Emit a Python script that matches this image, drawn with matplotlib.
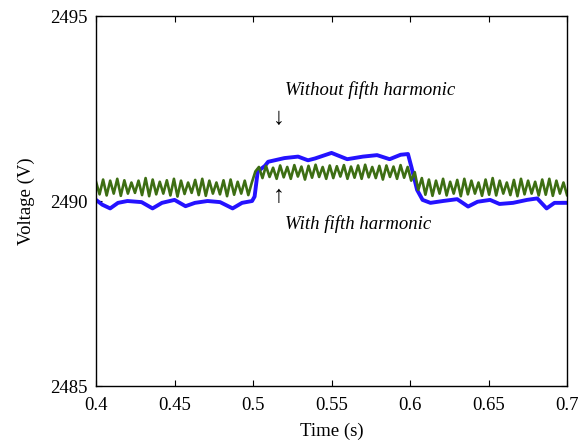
#Voltage response with and without fifth harmonic

import numpy as np
import matplotlib
matplotlib.use("Agg")
import matplotlib.pyplot as plt

plt.rcParams['font.family'] = ['Liberation Serif', 'DejaVu Serif']

#Blue trace: without fifth harmonic
blue_t = [0.400, 0.404, 0.409, 0.414, 0.420, 0.429, 0.436, 0.442, 0.450, 0.457,
          0.463, 0.471, 0.479, 0.487, 0.493, 0.4994, 0.501, 0.503, 0.5076, 0.5096,
          0.520, 0.5287, 0.535, 0.5395, 0.550, 0.560, 0.570, 0.579, 0.587, 0.594,
          0.5987, 0.601, 0.6045, 0.608, 0.613, 0.621, 0.630, 0.637, 0.643, 0.651,
          0.657, 0.6656, 0.6745, 0.681, 0.687, 0.692, 0.700]
blue_v = [2490.03, 2489.90, 2489.80, 2489.95, 2490.00, 2489.97, 2489.80, 2489.95, 2490.03, 2489.86,
          2489.95, 2490.00, 2489.97, 2489.80, 2489.95, 2490.00, 2490.12, 2490.80, 2490.95, 2491.06,
          2491.16, 2491.20, 2491.10, 2491.15, 2491.30, 2491.13, 2491.20, 2491.24, 2491.13, 2491.25,
          2491.27, 2490.90, 2490.30, 2490.03, 2489.95, 2490.00, 2490.05, 2489.85, 2489.98, 2490.03,
          2489.92, 2489.95, 2490.03, 2490.07, 2489.80, 2489.95, 2489.95]

#Green trace: with fifth harmonic, peaks and troughs in turn
green_pre = [2490.52, 2490.18, 2490.58, 2490.15, 2490.55, 2490.20, 2490.60, 2490.14, 2490.56, 2490.20,
             2490.50, 2490.22, 2490.55, 2490.16, 2490.62, 2490.13, 2490.58, 2490.18, 2490.52, 2490.20,
             2490.56, 2490.15, 2490.60, 2490.12, 2490.55, 2490.19, 2490.50, 2490.22, 2490.57, 2490.16,
             2490.60, 2490.14, 2490.55, 2490.20, 2490.50, 2490.18, 2490.56, 2490.13, 2490.58, 2490.17,
             2490.52, 2490.20, 2490.55, 2490.16, 2490.50]
green_step = [2490.80, 2490.92, 2490.62, 2490.95, 2490.65, 2490.90, 2490.60, 2490.96, 2490.64, 2490.92,
              2490.60, 2490.97, 2490.66, 2490.93, 2490.58, 2490.95, 2490.63, 2490.98, 2490.65, 2490.92,
              2490.60, 2490.96, 2490.62, 2490.94, 2490.66, 2490.97, 2490.60, 2490.93, 2490.63, 2490.96,
              2490.60, 2490.98, 2490.64, 2490.92, 2490.62, 2490.95, 2490.58, 2490.96, 2490.65, 2490.93,
              2490.60, 2490.97, 2490.63, 2490.92]
green_post = [2490.55, 2490.78, 2490.30, 2490.62, 2490.17, 2490.58, 2490.14, 2490.55, 2490.20, 2490.60,
              2490.15, 2490.52, 2490.20, 2490.57, 2490.13, 2490.60, 2490.18, 2490.55, 2490.20, 2490.50,
              2490.14, 2490.58, 2490.17, 2490.62, 2490.15, 2490.55, 2490.20, 2490.50, 2490.16, 2490.57,
              2490.13, 2490.60, 2490.18, 2490.55, 2490.20, 2490.52, 2490.15, 2490.58, 2490.17, 2490.60,
              2490.14, 2490.55, 2490.20, 2490.50, 2490.16]

x_ticks = [0.4, 0.45, 0.5, 0.55, 0.6, 0.65, 0.7]
x_labels = ['0.4', '0.45', '0.5', '0.55', '0.6', '0.65', '0.7']
y_ticks = [2485, 2490, 2495]

green_v = green_pre + green_step + green_post
green_t = np.linspace(0.4, 0.7, len(green_v))

fig = plt.figure(figsize=(5.83, 4.41), dpi=100)
ax = fig.add_axes([0.1647, 0.1247, 0.8079, 0.839])

ax.plot(blue_t, blue_v, color='#2412ff', linewidth=2.8)
ax.plot(green_t, green_v, color='#3d6e13', linewidth=1.9)

ax.set_xlim(0.4, 0.7)
ax.set_ylim(2485, 2495)
ax.set_xticks(x_ticks)
ax.set_xticklabels(x_labels)
ax.set_yticks(y_ticks)
ax.tick_params(direction='in', top=True, right=True, length=4, width=0.8,
               labelsize=13.5)
ax.tick_params(axis='x', pad=8)
ax.tick_params(axis='y', pad=6)
for s in ax.spines.values():
    s.set_linewidth(1.0)

ax.set_xlabel('Time (s)', fontsize=13.5, labelpad=6)
ax.set_ylabel('Voltage (V)', fontsize=13.5, labelpad=11)

#Annotations
ax.text(0.5204, 2493.0, 'Without fifth harmonic', style='italic', fontsize=13.5,
        ha='left', va='center')
ax.text(0.5166, 2492.24, '\u2193', fontsize=17, ha='center', va='center')
ax.text(0.5166, 2490.11, '\u2191', fontsize=17, ha='center', va='center')
ax.text(0.5204, 2489.38, 'With fifth harmonic', style='italic', fontsize=13.5,
        ha='left', va='center')

plt.savefig("out.png", dpi=100)
plt.close()
